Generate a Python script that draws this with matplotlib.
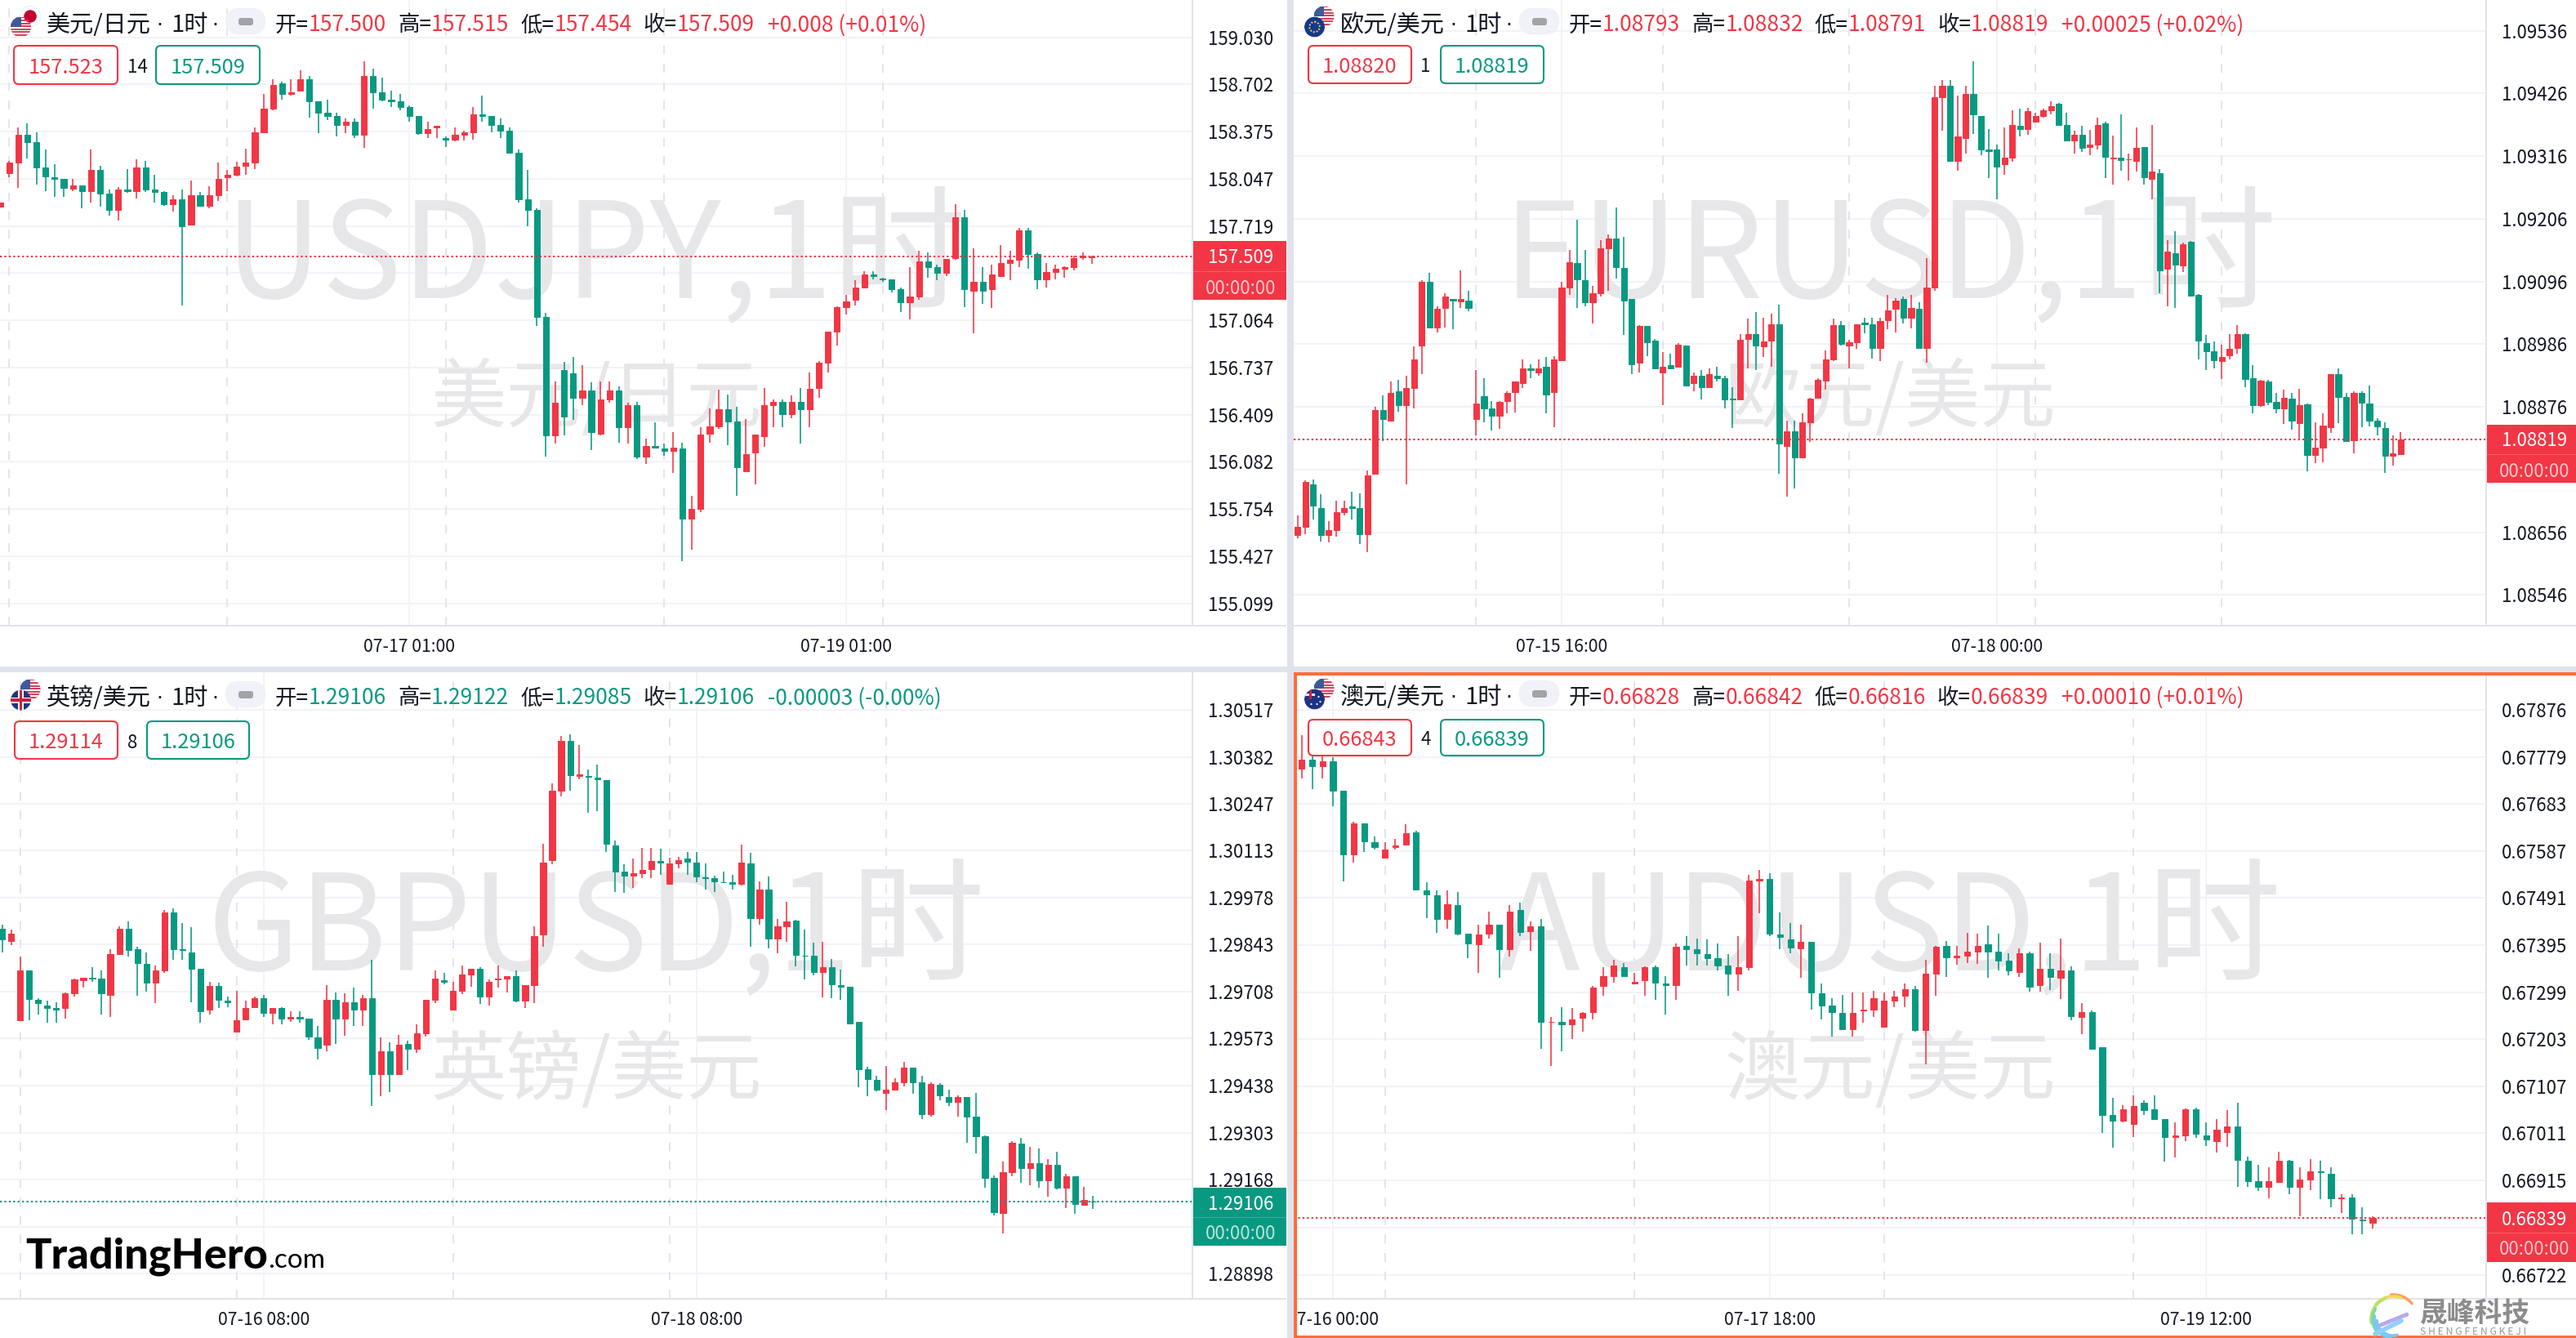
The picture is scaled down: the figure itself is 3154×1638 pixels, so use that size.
import numpy as np
import matplotlib
matplotlib.use("Agg")
import matplotlib.pyplot as plt
from matplotlib.patches import Rectangle, Circle, FancyBboxPatch

plt.rcParams['font.family'] = ['Noto Sans CJK SC', 'DejaVu Sans']

W, H = 3154, 1638
RED, GREEN = '#f23645', '#089981'
GRID, AXLINE, SEP = '#f2f3f8', '#e0e3eb', '#e0e3eb'
WM = '#e7e7ea'

# ---------- data (prices; USDJPY in 0.001, the others in 0.00001) ----------
usdjpy_open = [157852,158086,158158,158351,158301,158124,158060,158044,157980,158003,
157959,158111,157942,157831,157971,157959,158124,157971,157956,157871,
157903,157727,157931,157857,157931,158056,158073,158135,158160,158368,
158532,158708,158636,158659,158736,158583,158506,158481,158420,158441,
158351,158759,158645,158594,158583,158543,158481,158362,158402,158330,
158317,158352,158368,158492,158481,158420,158379,158226,157903,157831,
157086,156264,156718,156695,156525,156576,156279,156513,156576,156321,
156478,156117,156194,156173,156156,156173,155686,155757,156275,156326,
156449,156362,156018,156145,156258,156476,156500,156411,156500,156449,
156593,156769,156986,157154,157205,157290,157383,157355,157347,157279,
157188,157228,157472,157432,157392,157494,157778,157268,157330,157279,
157372,157460,157483,157687,157523,157347,157398,157423,157434,157500,
157500]
usdjpy_high = [157880,158173,158403,158430,158368,158249,158146,158044,158044,158003,
158249,158135,157971,157991,158112,158184,158173,158073,157959,157931,
157971,158033,157954,157993,158158,158107,158163,158258,158403,158634,
158736,158721,158736,158800,158759,158585,158594,158504,158464,158464,
158863,158812,158747,158657,158634,158555,158481,158441,158413,158339,
158402,158381,158543,158623,158481,158464,158402,158249,158107,157840,
157115,156642,156774,156808,156755,156633,156642,156642,156604,156491,
156500,156245,156359,156207,156287,156217,155848,156321,156453,156582,
156551,156462,156377,156270,156593,156513,156513,156542,156593,156704,
156784,156988,157162,157239,157341,157407,157407,157360,157347,157294,
157432,157545,157534,157449,157492,157870,157829,157562,157432,157449,
157587,157545,157704,157704,157534,157460,157449,157440,157511,157534,
157515]
usdjpy_low = [157852,158060,157984,158188,158007,157959,157922,157922,157959,157842,
157880,157852,157791,157757,157950,157908,157956,157880,157861,157818,
157166,157727,157852,157842,157893,157959,158063,158075,158112,158362,
158523,158594,158623,158659,158472,158362,158456,158339,158362,158328,
158260,158532,158583,158543,158523,158441,158351,158328,158328,158265,
158309,158311,158317,158441,158368,158328,158226,157880,157716,157024,
156119,156207,156264,156374,156476,156166,156268,156491,156217,156207,
156103,156069,156173,156122,156003,155391,155470,155735,156217,156311,
156196,155848,156015,155928,156185,156321,156324,156387,156207,156324,
156525,156704,156888,157103,157166,157288,157347,157332,157256,157124,
157073,157205,157360,157341,157370,157483,157156,156973,157177,157152,
157370,157341,157432,157421,157279,157290,157347,157360,157409,157483,
157454]
usdjpy_close = [157880,158158,158351,158301,158126,158063,158046,157984,158003,157959,
158111,157944,157831,157971,157959,158124,157971,157956,157871,157903,
157716,157931,157857,157931,158044,158073,158133,158158,158368,158532,
158696,158636,158645,158736,158585,158506,158481,158420,158441,158351,
158759,158645,158594,158583,158543,158481,158362,158390,158413,158318,
158351,158368,158492,158481,158420,158379,158226,157903,157831,157086,
156264,156491,156396,156525,156576,156287,156513,156576,156321,156476,
156117,156194,156183,156156,156183,155686,155757,156270,156326,156449,
156362,156043,156134,156270,156478,156500,156411,156500,156449,156591,
156769,156984,157154,157194,157294,157381,157372,157347,157279,157188,
157228,157472,157432,157394,157492,157778,157281,157330,157268,157381,
157460,157483,157687,157523,157347,157398,157421,157436,157498,157515,
157509]

eurusd_open = [108651,108666,108740,108699,108651,108660,108691,108701,108699,108653,
108758,108870,108852,108904,108879,108909,108984,109095,109015,109050,
109066,109061,109063,108854,108895,108873,108860,108886,108902,108918,
108943,108937,108947,108902,108958,109086,109128,109099,109059,109076,
109154,109172,109120,109066,108953,109018,108992,108937,108949,108947,
108983,108918,108931,108911,108930,108927,108891,108889,108995,109004,
108982,108992,109021,108808,108833,108788,108849,108892,108922,108960,
109020,108983,108989,109024,109021,108980,109028,109048,109066,109033,
109048,108980,109086,109420,109440,109308,109348,109425,109386,109327,
109327,109302,109314,109369,109363,109376,109386,109396,109408,109370,
109344,109353,109332,109337,109374,109312,109314,109310,109308,109332,
109276,109286,109118,109146,109124,109165,109073,108988,108973,108956,
108966,108979,109004,108927,108879,108921,108885,108873,108891,108848,
108881,108792,108805,108841,108934,108893,108818,108900,108882,108852,108839,108790,108793]
eurusd_high = [108685,108747,108749,108723,108676,108712,108712,108727,108724,108764,
108876,108896,108921,108924,108931,108982,109099,109111,109052,109076,
109066,109115,109079,108940,108927,108886,108886,108903,108921,108960,
108950,108960,108963,108965,109095,109151,109205,109151,109089,109169,
109179,109226,109175,109066,109020,109018,108995,108972,108970,108988,
108984,108937,108940,108943,108947,108930,108911,109004,109031,109043,
109033,109040,109056,108852,108852,108864,108892,108926,108975,109031,
109027,108994,109021,109032,109032,109032,109072,109067,109069,109072,
109059,109137,109440,109450,109450,109422,109440,109482,109386,109363,
109337,109366,109396,109399,109401,109392,109399,109412,109409,109392,
109361,109369,109362,109384,109376,109352,109389,109320,109366,109332,
109371,109293,109169,109185,109164,109167,109074,109002,108991,108985,
109004,109019,109005,108949,108923,108923,108900,108906,108900,108908,
108882,108849,108864,108934,108943,108900,108903,108903,108914,108856,108849,108826,108832]
eurusd_low = [108646,108653,108679,108640,108638,108648,108685,108679,108635,108621,
108757,108816,108850,108867,108740,108873,108934,109015,109007,109015,
109012,109050,109044,108826,108849,108834,108837,108864,108866,108909,
108927,108930,108865,108841,108957,109072,109050,109053,109022,109069,
109079,109101,109002,108934,108937,108965,108944,108879,108944,108946,
108913,108904,108889,108911,108921,108873,108839,108889,108943,108941,
108963,108947,108758,108718,108733,108787,108815,108891,108906,108956,
108983,108944,108978,109005,108961,108957,109012,109006,109022,109014,
108980,108953,109080,109361,109306,109291,109321,109355,109317,109278,
109240,109283,109306,109350,109353,109375,109384,109389,109369,109344,
109321,109324,109318,109327,109278,109266,109291,109273,109289,109266,
109240,109076,109053,109050,109113,109070,108960,108940,108944,108925,
108960,108970,108911,108865,108876,108879,108865,108846,108836,108820,
108763,108777,108779,108830,108847,108815,108795,108841,108842,108826,108760,108773,108791]
eurusd_close = [108666,108744,108702,108651,108660,108691,108699,108699,108653,108756,
108870,108854,108901,108879,108909,108960,109096,109015,109048,109069,
109063,109066,109050,108882,108873,108860,108885,108901,108920,108944,
108941,108944,108898,108960,109086,109130,109100,109059,109076,109154,
109172,109121,109063,108951,109018,108989,108944,108947,108944,108985,
108914,108930,108911,108934,108927,108889,108889,108994,109004,108983,
108991,109021,108811,108833,108788,108849,108891,108923,108960,109019,
108987,108989,109021,109021,108980,109027,109046,109063,109033,109050,
108980,109086,109420,109440,109308,109350,109425,109389,109327,109325,
109298,109314,109370,109363,109395,109386,109396,109404,109370,109344,
109353,109330,109337,109370,109315,109314,109309,109311,109331,109279,
109289,109115,109148,109125,109162,109071,108992,108973,108958,108963,
108978,109004,108925,108879,108922,108885,108873,108892,108852,108879,
108792,108804,108843,108934,108893,108816,108901,108883,108852,108842,108790,108794,108819]

gbpusd_open = [129889,129854,129626,129769,129684,129668,129661,129662,129704,129741,
129748,129746,129699,129816,129889,129830,129787,129733,129769,129936,
129829,129820,129774,129657,129725,129682,129594,129627,129664,129690,
129648,129661,129631,129635,129631,129576,129556,129684,129631,129678,
129657,129690,129472,129536,129472,129557,129543,129588,129684,129741,
129656,129711,129758,129774,129694,129742,129746,129752,129683,129727,
129873,130085,130285,130428,130328,130328,130322,130316,130128,130053,
130042,130049,130059,130084,130018,130075,130090,130079,130037,130033,
130023,130023,130017,130076,129920,130001,129861,129896,129912,129812,
129812,129765,129779,129727,129722,129620,129486,129454,129418,129427,
129448,129490,129447,129355,129441,129405,129390,129405,129348,129292,
129173,129073,129190,129272,129201,129216,129165,129210,129144,129178,
129096,129106]
gbpusd_high = [129901,129885,129809,129769,129690,129682,129678,129705,129746,129748,
129778,129768,129830,129895,129909,129836,129820,129784,129942,129948,
129905,129893,129774,129737,129733,129694,129711,129682,129694,129699,
129661,129664,129651,129652,129631,129609,129726,129705,129704,129719,
129698,129800,129576,129563,129584,129567,129614,129684,129769,129762,
129737,129784,129774,129778,129744,129784,129752,129768,129726,129895,
130133,130307,130443,130446,130417,130345,130360,130316,130142,130074,
130090,130120,130120,130118,130093,130095,130109,130109,130075,130042,
130053,130044,130129,130106,130024,130038,129916,129965,129914,129886,
129848,129852,129801,129770,129722,129620,129493,129467,129495,129459,
129507,129490,129467,129447,129444,129427,129410,129405,129418,129295,
129181,129221,129278,129289,129263,129258,129227,129248,129184,129178,
129148,129122]
gbpusd_low = [129821,129842,129626,129626,129641,129619,129619,129631,129694,129719,
129737,129641,129635,129815,129809,129695,129707,129674,129762,129800,
129800,129678,129619,129641,129662,129664,129592,129626,129662,129635,
129615,129615,129622,129619,129569,129514,129537,129557,129580,129610,
129610,129379,129408,129420,129472,129483,129531,129578,129674,129729,
129653,129700,129721,129673,129669,129719,129705,129678,129662,129674,
129838,130074,130268,130285,130317,130222,130227,130108,129995,129991,
130006,130034,130034,130044,130016,130063,130044,130021,130001,129995,
130019,130001,130013,129838,129899,129832,129818,129852,129780,129744,
129755,129692,129688,129685,129614,129434,129407,129422,129368,129427,
129435,129414,129342,129348,129396,129380,129350,129275,129244,129144,
129065,129013,129178,129158,129152,129144,129118,129139,129086,129069,
129094,129085]
gbpusd_close = [129858,129875,129769,129686,129674,129662,129657,129704,129742,129748,
129746,129704,129815,129889,129827,129789,129733,129769,129936,129830,
129827,129774,129652,129725,129684,129678,129626,129662,129690,129648,
129661,129631,129635,129631,129578,129547,129684,129631,129678,129657,
129690,129472,129536,129472,129555,129543,129588,129684,129745,129737,
129711,129758,129774,129694,129737,129746,129752,129682,129726,129868,
130079,130285,130428,130329,130332,130324,130317,130133,130053,130042,
130048,130057,130083,130078,130075,130086,130081,130038,130034,130025,
130021,130018,130079,129920,130001,129861,129895,129910,129814,129810,
129765,129779,129729,129722,129617,129486,129456,129427,129426,129447,
129490,129448,129355,129442,129410,129390,129405,129350,129292,129173,
129074,129190,129274,129201,129216,129165,129210,129144,129178,129097,
129110,129106]

audusd_open = [67756,67774,67760,67771,67711,67580,67644,67605,67573,67595,
67600,67625,67507,67497,67448,67477,67418,67396,67418,67437,
67387,67467,67423,67433,67238,67238,67234,67246,67258,67312,
67332,67350,67317,67323,67350,67317,67314,67394,67387,67376,
67368,67353,67336,67350,67527,67530,67417,67407,67389,67401,
67297,67272,67257,67223,67261,67264,67228,67282,67291,67305,
67222,67336,67393,67370,67374,67381,67396,67381,67363,67340,
67378,67313,67347,67329,67343,67249,67258,67186,67048,67036,
67030,67073,67060,67040,67004,67006,67060,67006,66995,67014,
67025,66955,66913,66901,66911,66955,66901,66917,66934,66928,
66878,66880,66835,66828]
audusd_high = [67824,67788,67785,67779,67711,67647,67644,67617,67605,67612,
67642,67629,67523,67507,67507,67503,67419,67437,67464,67437,
67476,67482,67443,67448,67248,67268,67267,67259,67312,67350,
67365,67358,67338,67351,67353,67332,67398,67414,67408,67407,
67398,67376,67414,67538,67548,67542,67462,67440,67437,67402,
67317,67286,67293,67298,67298,67301,67298,67301,67317,67311,
67365,67394,67404,67393,67420,67418,67435,67418,67378,67389,
67381,67400,67378,67408,67351,67276,67261,67186,67084,67069,
67088,67078,67088,67040,67034,67062,67064,67034,67040,67058,
67074,66964,66946,66942,66974,66957,66942,66958,66955,66942,
66886,66886,66860,66842]
audusd_low = [67735,67714,67735,67678,67525,67564,67585,67591,67572,67591,
67599,67506,67450,67420,67429,67415,67369,67339,67408,67328,
67372,67414,67384,67183,67148,67179,67204,67219,67243,67291,
67318,67332,67315,67291,67283,67254,67283,67354,67354,67354,
67344,67291,67302,67343,67460,67414,67387,67378,67329,67264,
67243,67209,67222,67209,67237,67248,67227,67268,67268,67219,
67152,67291,67330,67355,67358,67356,67328,67344,67334,67330,
67300,67300,67304,67285,67241,67213,67181,67011,66981,67034,
67004,67049,67040,66954,66962,66995,67001,66985,66971,66984,
66902,66902,66894,66878,66911,66887,66841,66895,66876,66860,
66848,66805,66805,66816]
audusd_close = [67774,67760,67771,67711,67580,67644,67607,67595,67590,67599,
67624,67508,67498,67448,67478,67419,67399,67417,67437,67387,
67463,67422,67433,67239,67239,67234,67244,67257,67308,67332,
67354,67332,67320,67350,67318,67314,67392,67387,67378,67369,
67354,67336,67350,67527,67530,67418,67411,67390,67402,67298,
67272,67258,67223,67257,67263,67286,67282,67290,67305,67222,
67336,67391,67370,67374,67381,67393,67381,67364,67344,67378,
67310,67347,67330,67343,67250,67258,67184,67049,67037,67060,
67066,67058,67040,67004,67006,67060,67010,66998,67018,67025,
66956,66914,66901,66913,66955,66901,66916,66934,66932,66878,
66880,66836,66834,66839]

# tick labels (grid level, and the text shown: levels under the last-price box show none)
usdjpy_ticks = ['159.030','158.702','158.375','158.047','157.719','157.392','157.064','156.737','156.409','156.082','155.754','155.427','155.099']
eurusd_ticks = ['1.09536','1.09426','1.09316','1.09206','1.09096','1.08986','1.08876','1.08766','1.08656','1.08546']
gbpusd_ticks = ['1.30517','1.30382','1.30247','1.30113','1.29978','1.29843','1.29708','1.29573','1.29438','1.29303','1.29168','1.29033','1.28898']
audusd_ticks = ['0.67876','0.67779','0.67683','0.67587','0.67491','0.67395','0.67299','0.67203','0.67107','0.67011','0.66915','0.66819','0.66722']
covered_ticks = ['157.392', '1.08766', '1.29033', '0.66819']

usdjpy_times = ['07-17 01:00', '07-19 01:00']
eurusd_times = ['07-15 16:00', '07-18 00:00']
gbpusd_times = ['07-16 08:00', '07-18 08:00']
audusd_times = ['07-16 00:00', '07-17 18:00', '07-19 12:00']

panels = [
 dict(sym='USDJPY,1时', sub='美元/日元', name='美元/日元', flags=('us','jp'),
      o=usdjpy_open, h=usdjpy_high, l=usdjpy_low, c=usdjpy_close, scale=1e3, ticks=usdjpy_ticks,
      times=usdjpy_times, time_i=[45,93], dash_i=[1,25,49,73,97],
      ax_px=(0,1460,0,766), x0=0.0, dx=11.14, ylim=(154.945,159.288), last='157.509', fmt=3,
      ohlc=('157.500','157.515','157.454','157.509','+0.008 (+0.01%)'), hc=RED,
      box=(17,144,56,103), spread='14', sx=168, gbox=(191,318), bid='157.523', ask='157.509',
      lbox=(295,367), lcol=RED, off=(0,0), ly=(313,351)),
 dict(sym='EURUSD,1时', sub='欧元/美元', name='欧元/美元', flags=('eu','us'),
      o=eurusd_open, h=eurusd_high, l=eurusd_low, c=eurusd_close, scale=1e5, ticks=eurusd_ticks,
      times=eurusd_times, time_i=[34,90], dash_i=[23,47,71,95,119],
      ax_px=(1584,3044,0,766), x0=1588.7, dx=9.51, ylim=(1.08492,1.09590), last='1.08819', fmt=5,
      ohlc=('1.08793','1.08832','1.08791','1.08819','+0.00025 (+0.02%)'), hc=RED,
      box=(1602,1728,56,102), spread='1', sx=1745, gbox=(1764,1890), bid='1.08820', ask='1.08819',
      lbox=(519.5,591), lcol=RED, off=(1584,0), ly=(538,575)),
 dict(sym='GBPUSD,1时', sub='英镑/美元', name='英镑/美元', flags=('gb','us'),
      o=gbpusd_open, h=gbpusd_high, l=gbpusd_low, c=gbpusd_close, scale=1e5, ticks=gbpusd_ticks,
      times=gbpusd_times, time_i=[29,77], dash_i=[2,26,50,74,98],
      ax_px=(0,1460,823,1589.5), x0=2.6, dx=11.04, ylim=(1.28827,1.30625), last='1.29106', fmt=5,
      ohlc=('1.29106','1.29122','1.29085','1.29106','-0.00003 (-0.00%)'), hc=GREEN,
      box=(18,144,883,929), spread='8', sx=162, gbox=(180,305), bid='1.29114', ask='1.29106',
      lbox=(1453.7,1525), lcol=GREEN, off=(0,824), ly=(1472.5,1508.5)),
 dict(sym='AUDUSD,1时', sub='澳元/美元', name='澳元/美元', flags=('au','us'),
      o=audusd_open, h=audusd_high, l=audusd_low, c=audusd_close, scale=1e5, ticks=audusd_ticks,
      times=audusd_times, time_i=[3,45,87], dash_i=[8,32,56,80],
      ax_px=(1584,3044,823,1589.5), x0=1593.8, dx=12.73, ylim=(0.66674,0.67952), last='0.66839', fmt=5,
      ohlc=('0.66828','0.66842','0.66816','0.66839','+0.00010 (+0.01%)'), hc=RED,
      box=(1602,1728,881,925), spread='4', sx=1746, gbox=(1764,1890), bid='0.66843', ask='0.66839',
      lbox=(1472.3,1544.8), lcol=RED, off=(1584,823), ly=(1491.5,1528)),
]

fig = plt.figure(figsize=(W/100, H/100), dpi=100, facecolor='white')
BODY_PX = 7.2

for p in panels:
    x_l, x_r, y_t, y_b = p['ax_px']
    ax = fig.add_axes([x_l/W, 1-y_b/H, (x_r-x_l)/W, (y_b-y_t)/H], zorder=1)
    ax.set_facecolor('white')
    for s in ax.spines.values():
        s.set_visible(False)
    o, h, l, c = [np.array(p[k], float)/p['scale'] for k in 'ohlc']
    n = len(o)
    idx = np.arange(n)
    ax.set_xlim((x_l-p['x0'])/p['dx'], (x_r-p['x0'])/p['dx'])
    ax.set_ylim(*p['ylim'])
    # grid
    tick_vals = [float(t) for t in p['ticks']]
    for v in tick_vals:
        ax.axhline(v, color=GRID, lw=1.5, zorder=0.2)
    for i in p['time_i']:
        ax.axvline(i, color=GRID, lw=1.3, zorder=0.2)
    for i in p['dash_i']:
        ax.axvline(i, color='#e0e3eb', lw=1.3, ls=(0, (6, 6.5)), zorder=0.3)
    # watermarks
    cx = 0.5
    base = (1 - (365+ (0 if y_t == 0 else 823) - y_t)/(y_b-y_t))
    ax.text(cx, base, p['sym'], transform=ax.transAxes, color=WM, fontsize=118,
            ha='center', va='baseline', zorder=0.5, clip_on=False)
    base2 = (1 - (516+ (0 if y_t == 0 else 823) - y_t)/(y_b-y_t))
    ax.text(cx, base2, p['sub'], transform=ax.transAxes, color=WM, fontsize=66.5,
            ha='center', va='baseline', zorder=0.5, clip_on=False)
    # candles
    up = c > o
    cols = np.where(up, RED, GREEN)
    ax.vlines(idx, l, h, colors=cols, lw=1.15, zorder=3)
    ax.bar(idx, c-o, bottom=o, width=BODY_PX/p['dx'], color=cols, edgecolor=cols, linewidth=0.7, zorder=3.1)
    # last price line
    ax.axhline(float(p['last']), color=p['lcol'], lw=1.5, ls=(0, (1.1, 1.5)), zorder=4)
    # axes
    ax.yaxis.tick_right()
    ax.set_yticks(tick_vals)
    ax.set_yticklabels(['' if t in covered_ticks else t for t in p['ticks']], fontsize=16, color='#131722')
    ax.tick_params(axis='y', length=0, pad=13.5)
    ax.set_xticks(p['time_i'])
    ax.set_xticklabels(p['times'], fontsize=15.3, color='#131722')
    ax.tick_params(axis='x', length=0, pad=11)

# overlay in pixel coordinates
ov = fig.add_axes([0, 0, 1, 1], zorder=5)
ov.set_xlim(0, W)
ov.set_ylim(H, 0)
ov.axis('off')
ov.patch.set_alpha(0)
rend = fig.canvas.get_renderer()


def rect(x0, y0, x1, y1, color, z=2):
    ov.add_patch(Rectangle((x0, y0), x1-x0, y1-y0, facecolor=color, edgecolor='none', zorder=z))


def flag(cx, cy, kind, r=12.5):
    base = Circle((cx, cy), r, facecolor='white', edgecolor='#f0f0f2', lw=0.8, zorder=6)
    ov.add_patch(base)

    def clipped(artist):
        ov.add_patch(artist)
        artist.set_clip_path(base)
    if kind == 'us':
        for k in range(7):
            y = cy-r+k*2*r/7
            clipped(Rectangle((cx-r, y), 2*r, r/7*2*0.55, facecolor='#d4435a', zorder=6.1, edgecolor='none'))
        clipped(Rectangle((cx-r, cy-r), r, r, facecolor='#3d5a98', zorder=6.2, edgecolor='none'))
    elif kind == 'jp':
        clipped(Circle((cx, cy), r*0.62, facecolor='#c40030', zorder=6.1, edgecolor='none'))
    elif kind == 'eu':
        clipped(Circle((cx, cy), r, facecolor='#123a8c', zorder=6.1, edgecolor='none'))
        clipped(Circle((cx, cy), r*0.5, facecolor='none', edgecolor='#f7cf3c', lw=1.4, ls=(0, (1, 1)), zorder=6.2))
    elif kind == 'gb':
        clipped(Circle((cx, cy), r, facecolor='#1f3a7d', zorder=6.1, edgecolor='none'))
        clipped(Rectangle((cx-r, cy-3.5), 2*r, 7, facecolor='white', zorder=6.2, edgecolor='none'))
        clipped(Rectangle((cx-3.5, cy-r), 7, 2*r, facecolor='white', zorder=6.2, edgecolor='none'))
        clipped(Rectangle((cx-r, cy-1.8), 2*r, 3.6, facecolor='#cf1f3d', zorder=6.3, edgecolor='none'))
        clipped(Rectangle((cx-1.8, cy-r), 3.6, 2*r, facecolor='#cf1f3d', zorder=6.3, edgecolor='none'))
    elif kind == 'au':
        clipped(Circle((cx, cy), r, facecolor='#1d3484', zorder=6.1, edgecolor='none'))
        clipped(Rectangle((cx-r, cy-r*0.55), r, 3, facecolor='#e8e8f0', zorder=6.2, edgecolor='none'))
        clipped(Rectangle((cx-r*0.5, cy-r), 3, r, facecolor='#cf1f3d', zorder=6.2, edgecolor='none'))
        for dx_, dy_ in [(5, -3), (7, 3), (3, 6), (-4, 6)]:
            clipped(Circle((cx+dx_, cy+dy_), 1.1, facecolor='white', zorder=6.3, edgecolor='none'))


HEAD_Y = 31
for p in panels:
    ox, oy = p['off']
    x_l, x_r, y_t, y_b = p['ax_px']
    ax_right_end = 1575 if x_l == 0 else W
    # axis frame lines
    rect(x_r-1, y_t, x_r+1, y_b, AXLINE)
    rect(x_l, y_b-1, ax_right_end, y_b+1, AXLINE)
    # last price box
    t_, b_ = p['lbox']
    rect(x_r+1, t_, ax_right_end, b_, p['lcol'], z=3)
    mid = (t_+b_)/2 + 0.5
    ov.plot([x_r+1, ax_right_end], [mid, mid], color='white', lw=0.6, alpha=0.25, zorder=3.1)
    tx = x_r + 59
    ov.text(tx, p['ly'][0]+2, p['last'], color='white', fontsize=16, ha='center', va='center', zorder=4)
    ov.text(tx, p['ly'][1]+2, '00:00:00', color='white', alpha=0.72, fontsize=16, ha='center', va='center', zorder=4)
    # flags
    flag(ox+37, oy+20, p['flags'][1])
    flag(ox+25.5, oy+33, p['flags'][0])
    # name, separators, interval
    ov.text(ox+57, oy+HEAD_Y, p['name'], color='#131722', fontsize=21, ha='left', va='center', zorder=6)
    ov.text(ox+209, oy+HEAD_Y, '1时', color='#131722', fontsize=21, ha='left', va='center', zorder=6)
    ov.text(ox+195, oy+HEAD_Y, '·', color='#131722', fontsize=18, family='DejaVu Sans', ha='center', va='center', zorder=6)
    ov.text(ox+263, oy+HEAD_Y, '·', color='#131722', fontsize=18, family='DejaVu Sans', ha='center', va='center', zorder=6)
    # pill
    ov.add_patch(FancyBboxPatch((ox+282, oy+16), 37, 20, boxstyle='round,pad=0,rounding_size=10',
                                mutation_aspect=1, facecolor='#f0f1f9', edgecolor='#f0f1f9', lw=9, zorder=6))
    ov.add_patch(FancyBboxPatch((ox+292, oy+22), 18, 9, boxstyle='round,pad=0,rounding_size=3',
                                facecolor='#a3a3a6', edgecolor='none', zorder=6.5))
    # OHLC line
    x = ox + 337
    labels = ['开=', '高=', '低=', '收=']
    for lab, val in zip(labels, p['ohlc'][:4]):
        t = ov.text(x, oy+HEAD_Y, lab, color='#131722', fontsize=19, ha='left', va='center', zorder=6)
        x += t.get_window_extent(rend).width
        t = ov.text(x, oy+HEAD_Y, val, color=p['hc'], fontsize=19, ha='left', va='center', zorder=6)
        x += t.get_window_extent(rend).width + 14
    ov.text(x+2, oy+HEAD_Y, p['ohlc'][4], color=p['hc'], fontsize=19, ha='left', va='center', zorder=6)
    # bid / ask boxes
    bx0, bx1, by0, by1 = p['box']
    gx0, gx1 = p['gbox']
    ov.add_patch(FancyBboxPatch((bx0, by0), bx1-bx0, by1-by0, boxstyle='round,pad=0,rounding_size=6',
                                facecolor='white', edgecolor=RED, lw=1.5, zorder=6))
    ov.add_patch(FancyBboxPatch((gx0, by0), gx1-gx0, by1-by0, boxstyle='round,pad=0,rounding_size=6',
                                facecolor='white', edgecolor=GREEN, lw=1.5, zorder=6))
    my = (by0+by1)/2 + 3
    ov.text((bx0+bx1)/2, my, p['bid'], color=RED, fontsize=18.3, ha='center', va='center', zorder=7)
    ov.text((gx0+gx1)/2, my, p['ask'], color=GREEN, fontsize=18.3, ha='center', va='center', zorder=7)
    ov.text(p['sx'], my, p['spread'], color='#131722', fontsize=16, ha='center', va='center', zorder=7)

# dividers and active-panel border
rect(1576, 0, 1584, H, SEP, z=8)
rect(0, 816, W, 823, SEP, z=8)
ORANGE = '#ff6d3b'
rect(1584, 823, W, 827, ORANGE, z=9)
rect(1584, 823, 1588, H, ORANGE, z=9)
rect(1584, 1635, W, H, ORANGE, z=9)

# brand marks
ov.text(31, 1552, 'TradingHero', color='black', fontsize=37.5, family='Lato', weight='black',
        ha='left', va='baseline', zorder=7)
ov.text(328, 1552, '.com', color='black', fontsize=24, family='Lato', ha='left', va='baseline', zorder=7)

ov.text(2963, 1608, '晟峰科技', color='#8c8c8c', fontsize=24.3, weight='bold', ha='left', va='center', zorder=10)
ov.text(2963, 1631, 'S H E N G F E N G K E J I', color='#9a9a9a', fontsize=8.8, ha='left', va='center', zorder=10)
swirl = [('#f7a35c', 30, 40, 95), ('#f6d860', 28, 70, 140), ('#b6e36c', 27, 110, 190),
         ('#7fd8a4', 25, 150, 225), ('#76c9f0', 23, 170, 262), ('#7cc6f7', 20, 185, 285)]
for col, r, a0, a1 in swirl:
    th = np.radians(np.linspace(a0, a1, 40))
    ov.plot(2930+r*np.cos(th), 1615-r*np.sin(th), color=col, lw=2.6, zorder=9.5, solid_capstyle='round')
th = np.linspace(-0.5, 1.1, 20)
ov.plot(2925+th*20, 1618-th*8, color='#b9a8f0', lw=3.5, zorder=9.5, solid_capstyle='round')
ov.plot(2918+th*20, 1628-th*10, color='#8fd0fb', lw=4, zorder=9.5, solid_capstyle='round')

fig.savefig('out.png', dpi=100, facecolor='white')
